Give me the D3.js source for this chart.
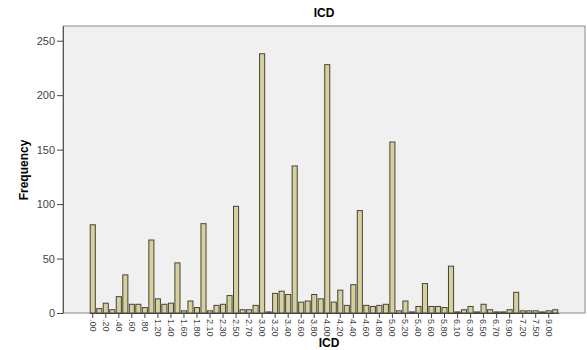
<!DOCTYPE html>
<html>
<head>
<meta charset="utf-8">
<script src="https://cdn.jsdelivr.net/npm/d3@7"></script>
<style>
  body { margin: 0; background: #fff; }
  svg { font-family: "Liberation Sans", Arial, sans-serif; }
</style>
</head>
<body>
<svg id="chart" width="587" height="350"></svg>
<script>
// ICD categories (only every second one is labelled on the axis)
const categories = [
  ".00", ".10", ".20", ".30", ".40", ".50", ".60", ".70", ".80", "1.00",
  "1.20", "1.30", "1.40", "1.50", "1.60", "1.70", "1.80", "2.00", "2.10", "2.20",
  "2.30", "2.40", "2.50", "2.60", "2.70", "2.80", "3.00", "3.10", "3.20", "3.30",
  "3.40", "3.50", "3.60", "3.70", "3.80", "3.90", "4.00", "4.10", "4.20", "4.30",
  "4.40", "4.50", "4.60", "4.70", "4.80", "4.90", "5.00", "5.10", "5.20", "5.30",
  "5.40", "5.50", "5.60", "5.70", "5.80", "6.00", "6.10", "6.20", "6.30", "6.40",
  "6.50", "6.60", "6.70", "6.80", "6.90", "7.00", "7.20", "7.30", "7.50", "8.00",
  "9.00", "10.00"
];
const frequency = [
  81, 4, 9, 3, 15, 35, 8, 8, 5, 67,
  13, 8, 9, 46, 2, 11, 5, 82, 2, 7,
  8, 16, 98, 3, 3, 7, 238, 1, 18, 20,
  17, 135, 10, 11, 17, 13, 228, 10, 21, 7,
  26, 94, 7, 6, 7, 8, 157, 2, 11, 1,
  6, 27, 6, 6, 5, 43, 1, 3, 6, 1,
  8, 3, 1, 1, 3, 19, 2, 2, 2, 1,
  2, 3
];
const yTicks = [0, 50, 100, 150, 200, 250];
const shownLabels = categories.filter((d, i) => i % 2 === 0);

const svg = d3.select("#chart");
const plotLeft = 63, plotRight = 585, plotTop = 26, plotBottom = 313;

const x = d3.scaleBand()
  .domain(categories)
  .range([plotLeft + 26.5, plotRight - 26.5])
  .paddingInner(0.22)
  .paddingOuter(0.11);

const y = d3.scaleLinear()
  .domain([0, 263.5])
  .range([plotBottom, plotTop]);

// plot background
svg.append("rect")
  .attr("x", plotLeft).attr("y", plotTop)
  .attr("width", plotRight - plotLeft).attr("height", plotBottom - plotTop)
  .attr("fill", "#f0f0f0")
  .attr("stroke", "#8a8a8a")
  .attr("stroke-width", 1);

// bars
svg.selectAll("rect.bar")
  .data(frequency)
  .enter()
  .append("rect")
  .attr("class", "bar")
  .attr("x", (d, i) => x(categories[i]))
  .attr("y", d => y(d))
  .attr("width", x.bandwidth())
  .attr("height", d => plotBottom - y(d))
  .attr("fill", "#d6d19c")
  .attr("stroke", "#45443a")
  .attr("stroke-width", 1);

// y axis
const yAxis = svg.append("g")
  .attr("transform", `translate(${plotLeft},0)`)
  .call(d3.axisLeft(y).tickValues(yTicks).tickSize(6).tickSizeOuter(0).tickPadding(2));
yAxis.select(".domain").attr("stroke", "#555");
yAxis.selectAll(".tick line").attr("stroke", "#444");
yAxis.selectAll("text").attr("font-size", 11).attr("fill", "#444");

// x axis
const xAxis = svg.append("g")
  .attr("transform", `translate(0,${plotBottom})`)
  .call(d3.axisBottom(x).tickValues(shownLabels).tickSize(5).tickSizeOuter(0));
xAxis.select(".domain").attr("stroke", "#444");
xAxis.selectAll(".tick line").attr("stroke", "#444");
xAxis.selectAll("text")
  .attr("font-size", 9)
  .attr("fill", "#444")
  .attr("transform", "rotate(90)")
  .attr("x", 6)
  .attr("y", 0)
  .attr("dy", "0.35em")
  .style("text-anchor", "start");

// titles
svg.append("text")
  .attr("x", 324).attr("y", 17)
  .attr("text-anchor", "middle")
  .attr("font-size", 12).attr("font-weight", "bold")
  .text("ICD");

svg.append("text")
  .attr("x", 329).attr("y", 347)
  .attr("text-anchor", "middle")
  .attr("font-size", 12).attr("font-weight", "bold")
  .text("ICD");

svg.append("text")
  .attr("transform", "translate(28,170) rotate(-90)")
  .attr("text-anchor", "middle")
  .attr("font-size", 12).attr("font-weight", "bold")
  .text("Frequency");
</script>
</body>
</html>
